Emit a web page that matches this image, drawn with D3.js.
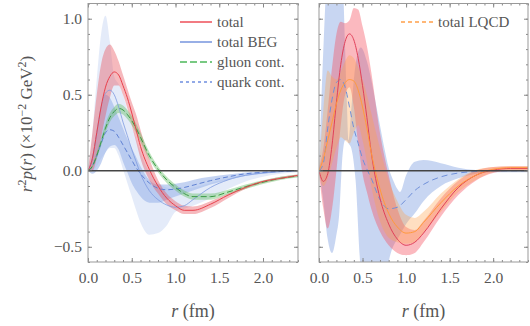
<!DOCTYPE html>
<html>
<head>
<meta charset="utf-8">
<script src="https://cdn.jsdelivr.net/npm/d3@7"></script>
<style>
  body { margin: 0; background: #fff; }
  text { font-family: "Liberation Serif", "Times New Roman", serif; fill: #555; }
</style>
</head>
<body>
<script>
// r grid (fm) shared by most curves
const rGrid = [0,0.05,0.1,0.15,0.2,0.25,0.3,0.35,0.4,0.45,0.5,0.55,0.6,0.7,0.8,0.9,1.0,1.1,1.2,1.4,1.6,1.8,2.0,2.2,2.4];

// left panel
const totalL   = [0,0.08,0.25,0.42,0.55,0.62,0.65,0.63,0.56,0.48,0.38,0.27,0.16,0.01,-0.10,-0.18,-0.23,-0.26,-0.26,-0.22,-0.16,-0.11,-0.07,-0.05,-0.03];
const totalLHi = [0,0.25,0.5,0.7,0.8,0.83,0.79,0.72,0.63,0.54,0.45,0.37,0.27,0.08,-0.06,-0.15,-0.20,-0.23,-0.235,-0.20,-0.15,-0.10,-0.065,-0.04,-0.025];
const totalLLo = [0,0,0.08,0.22,0.36,0.48,0.56,0.56,0.5,0.41,0.3,0.19,0.08,-0.06,-0.15,-0.22,-0.26,-0.285,-0.285,-0.245,-0.18,-0.12,-0.08,-0.055,-0.04];
const begL     = [0,0.08,0.25,0.42,0.51,0.53,0.50,0.42,0.32,0.23,0.14,0.06,-0.02,-0.13,-0.19,-0.225,-0.24,-0.23,-0.19,-0.11,-0.06,-0.03,-0.015,-0.005,0];
const begLHi   = [0,0.25,0.6,0.9,1.02,0.85,0.62,0.57,0.5,0.4,0.3,0.21,0.12,-0.01,-0.08,-0.11,-0.12,-0.12,-0.11,-0.08,-0.05,-0.025,-0.01,0,0];
const begLLo   = [0,0,0.03,0.08,0.12,0.15,0.15,0.1,0.01,-0.08,-0.17,-0.26,-0.34,-0.42,-0.41,-0.36,-0.27,-0.25,-0.23,-0.18,-0.12,-0.07,-0.04,-0.02,-0.01];
const gluonL   = [0,0.03,0.1,0.19,0.28,0.35,0.39,0.41,0.40,0.37,0.33,0.28,0.22,0.10,0.01,-0.06,-0.11,-0.15,-0.17,-0.17,-0.14,-0.105,-0.075,-0.05,-0.035];
const gluonLHi = [0,0.04,0.12,0.215,0.31,0.38,0.42,0.44,0.43,0.40,0.36,0.31,0.25,0.125,0.03,-0.04,-0.09,-0.13,-0.15,-0.15,-0.125,-0.09,-0.063,-0.04,-0.025];
const gluonLLo = [0,0.02,0.08,0.165,0.25,0.32,0.36,0.38,0.37,0.34,0.30,0.25,0.19,0.075,-0.01,-0.08,-0.13,-0.17,-0.19,-0.19,-0.155,-0.12,-0.087,-0.06,-0.045];
const quarkL   = [0,0.03,0.1,0.18,0.25,0.27,0.26,0.22,0.17,0.12,0.07,0.02,-0.02,-0.08,-0.115,-0.125,-0.12,-0.11,-0.095,-0.065,-0.04,-0.02,-0.01,-0.005,0];
const quarkLHi = [0,0.1,0.25,0.4,0.5,0.48,0.42,0.35,0.28,0.21,0.15,0.09,0.03,-0.06,-0.09,-0.09,-0.085,-0.075,-0.06,-0.04,-0.025,-0.012,-0.005,0,0];
const quarkLLo = [0,-0.02,0,0.05,0.12,0.16,0.17,0.14,0.06,-0.01,-0.08,-0.13,-0.17,-0.21,-0.21,-0.19,-0.17,-0.15,-0.13,-0.09,-0.06,-0.035,-0.02,-0.01,-0.005];

// right panel
const totalR   = [0,-0.07,-0.02,0.17,0.45,0.70,0.85,0.90,0.86,0.74,0.56,0.35,0.12,-0.18,-0.35,-0.45,-0.49,-0.47,-0.41,-0.25,-0.11,-0.03,0.005,0.015,0.015];
const totalRHi = [0.02,0.15,0.4,0.68,0.9,0.98,0.97,0.99,1.07,1.06,0.95,0.82,0.65,0.25,-0.03,-0.25,-0.37,-0.39,-0.33,-0.18,-0.065,0,0.025,0.03,0.03];
const totalRLo = [-0.02,-0.25,-0.38,-0.25,0.0,0.3,0.5,0.55,0.42,0.18,-0.02,-0.14,-0.25,-0.40,-0.49,-0.54,-0.555,-0.54,-0.47,-0.30,-0.16,-0.065,-0.015,0,0];
const lqcdR    = [0,0.08,0.2,0.32,0.44,0.53,0.58,0.60,0.59,0.53,0.42,0.28,0.12,-0.12,-0.28,-0.37,-0.41,-0.40,-0.34,-0.21,-0.10,-0.03,0.01,0.02,0.02];
const lqcdRHi  = [0.02,0.4,0.66,0.62,0.6,0.65,0.72,0.76,0.74,0.68,0.6,0.5,0.38,0.15,-0.06,-0.2,-0.29,-0.31,-0.27,-0.15,-0.055,0.005,0.025,0.03,0.03];
const lqcdRLo  = [-0.02,-0.1,-0.05,0.05,0.15,0.22,0.2,0.18,0.25,0.3,0.2,0.06,-0.1,-0.33,-0.44,-0.47,-0.48,-0.47,-0.41,-0.27,-0.14,-0.06,-0.01,0.005,0.005];
const begR     = [0,0.05,0.28,0.47,0.58,0.60,0.55,0.42,0.28,0.18,0.08,0.01,-0.05,-0.19,-0.25,-0.24,-0.19,-0.13,-0.09,-0.04,-0.015,-0.005,0,0,0];

// BEG band of right panel needs a finer grid
const rBand    = [0,0.05,0.1,0.15,0.2,0.23,0.27,0.3,0.32,0.34,0.37,0.42,0.48,0.55,0.6,0.65,0.7,0.75,0.8,0.85,0.9,0.93,1.0,1.1,1.2,1.4,1.6,1.8,2.0,2.2,2.4];
const begRHi   = [0,0.8,1.3,1.3,1.3,1.3,1.25,0.8,0.45,0.2,0.4,0.7,0.81,0.72,0.6,0.45,0.3,0.15,0.02,-0.06,-0.12,-0.14,-0.03,0.06,0.07,0.05,0.02,0.005,0,0,0];
const begRLo   = [0,-0.2,-0.45,-0.54,-0.42,-0.3,0.1,0.2,0.2,0.18,0.15,-0.06,-0.65,-0.8,-0.8,-0.8,-0.8,-0.8,-0.6,-0.5,-0.45,-0.42,-0.35,-0.28,-0.2,-0.1,-0.05,-0.02,-0.01,-0.01,-0.01];

const xMajor = [0,0.5,1.0,1.5,2.0];
const yMajor = [-0.5,0,0.5,1.0];

const svg = d3.select("body").append("svg")
  .attr("width", 530).attr("height", 326);

const yTop = 3.5, yBottom = 262;
const y = d3.scaleLinear().domain([-0.6, 1.1]).range([yBottom, yTop]);
const xL = d3.scaleLinear().domain([0, 2.4]).range([88, 298]);
const xR = d3.scaleLinear().domain([0, 2.4]).range([319, 528]);

const xMinor = d3.range(0, 2.41, 0.1).map(v => +v.toFixed(1));
const yMinor = d3.range(-0.6, 1.11, 0.1).map(v => +v.toFixed(1));

function zip(rs, a, b) {
  return rs.map((r, i) => ({r: r, a: a[i], b: b ? b[i] : null}));
}

function panel(x, id, showY) {
  const g = svg.append("g");
  g.append("clipPath").attr("id", id).append("rect")
    .attr("x", x.range()[0]).attr("y", yTop)
    .attr("width", x.range()[1] - x.range()[0]).attr("height", yBottom - yTop);
  const plot = g.append("g").attr("clip-path", "url(#" + id + ")");

  const band = (data, fill, op) => plot.append("path")
    .datum(data)
    .attr("d", d3.area().curve(d3.curveMonotoneX)
      .x(d => x(d.r)).y0(d => y(d.a)).y1(d => y(d.b)))
    .attr("fill", fill).attr("fill-opacity", op).attr("stroke", "none");

  const line = (data, color, w, dash) => plot.append("path")
    .datum(data)
    .attr("d", d3.line().curve(d3.curveMonotoneX).x(d => x(d.r)).y(d => y(d.a)))
    .attr("fill", "none").attr("stroke", color).attr("stroke-width", w)
    .attr("stroke-dasharray", dash || null);

  // axes: ticks inward on all four sides
  const axes = g.append("g");
  const addAxis = (ax, tx, ty) => {
    const a = axes.append("g").attr("transform", "translate(" + tx + "," + ty + ")").call(ax);
    a.select(".domain").remove();
    a.selectAll("line").attr("stroke", "#888");
    a.selectAll("text").attr("font-size", 15.5).attr("fill", "#555")
      .attr("font-family", "Liberation Serif, serif");
    return a;
  };
  const fmt = d3.format(".1f");
  addAxis(d3.axisBottom(x).tickValues(xMajor).tickSize(-4).tickPadding(10).tickFormat(fmt), 0, yBottom);
  addAxis(d3.axisBottom(x).tickValues(xMinor).tickSize(-2).tickFormat(""), 0, yBottom);
  addAxis(d3.axisTop(x).tickValues(xMajor).tickSize(-4).tickFormat(""), 0, yTop);
  addAxis(d3.axisTop(x).tickValues(xMinor).tickSize(-2).tickFormat(""), 0, yTop);
  addAxis(d3.axisLeft(y).tickValues(yMajor).tickSize(-4).tickPadding(6).tickFormat(showY ? fmt : ""), x.range()[0], 0);
  addAxis(d3.axisLeft(y).tickValues(yMinor).tickSize(-2).tickFormat(""), x.range()[0], 0);
  addAxis(d3.axisRight(y).tickValues(yMajor).tickSize(-4).tickFormat(""), x.range()[1], 0);
  addAxis(d3.axisRight(y).tickValues(yMinor).tickSize(-2).tickFormat(""), x.range()[1], 0);

  g.append("rect")
    .attr("x", x.range()[0]).attr("y", yTop)
    .attr("width", x.range()[1] - x.range()[0]).attr("height", yBottom - yTop)
    .attr("fill", "none").attr("stroke", "#999").attr("stroke-width", 1);

  const xl = g.append("text")
    .attr("x", (x.range()[0] + x.range()[1]) / 2).attr("y", 317)
    .attr("text-anchor", "middle").attr("font-size", 18);
  xl.append("tspan").attr("font-style", "italic").text("r");
  xl.append("tspan").text(" (fm)");

  return {plot: plot, band: band, line: line};
}

// left panel
const L = panel(xL, "clipL", true);
L.band(zip(rGrid, begLLo, begLHi), "#c9d7f3", 0.5);
L.band(zip(rGrid, quarkLLo, quarkLHi), "#9db5ea", 0.6);
L.band(zip(rGrid, totalLLo, totalLHi), "#e8505a", 0.4);
L.band(zip(rGrid, gluonLLo, gluonLHi), "#5cbc5c", 0.4);
L.line(zip(rGrid, begL), "#7e9be0", 0.8);
L.line(zip(rGrid, quarkL), "#5f80d2", 1, "5,3");
L.line(zip(rGrid, gluonL), "#3a9a45", 1, "6,3");
L.line(zip(rGrid, totalL), "#e8404c", 1);
L.plot.append("line").attr("x1", xL(0)).attr("x2", xL(2.4))
  .attr("y1", y(0)).attr("y2", y(0)).attr("stroke", "#444").attr("stroke-width", 1.3);

// right panel
const R = panel(xR, "clipR", false);
R.band(zip(rBand, begRLo, begRHi), "#7b9de0", 0.42);
R.band(zip(rGrid, totalRLo, totalRHi), "#f5505e", 0.4);
R.band(zip(rGrid, lqcdRLo, lqcdRHi), "#ffa04a", 0.34);
R.line(zip(rGrid, begR), "#6f8fd8", 1, "6,4");
R.line(zip(rGrid, totalR), "#e0405a", 1);
R.line(zip(rGrid, lqcdR), "#ff9a3c", 1);
R.plot.append("line").attr("x1", xR(0)).attr("x2", xR(2.4))
  .attr("y1", y(0)).attr("y2", y(0)).attr("stroke", "#444").attr("stroke-width", 1.3);

// legends
const legendL = [
  {label: "total", color: "#ef5a62", dash: null, y: 22},
  {label: "total BEG", color: "#7e9be0", dash: null, y: 42},
  {label: "gluon cont.", color: "#4cb85a", dash: "7,3", y: 62},
  {label: "quark cont.", color: "#6f8fe0", dash: "3,3", y: 82}
];
const legendR = [
  {label: "total LQCD", color: "#ffa04a", dash: "4,3", y: 22}
];
function legend(items, x0) {
  const lg = svg.append("g").selectAll("g").data(items).enter().append("g");
  lg.append("line").attr("x1", x0).attr("x2", x0 + 32)
    .attr("y1", d => d.y).attr("y2", d => d.y)
    .attr("stroke", d => d.color).attr("stroke-width", 1.6)
    .attr("stroke-dasharray", d => d.dash);
  lg.append("text").attr("x", x0 + 37).attr("y", d => d.y + 5)
    .attr("font-size", 15).text(d => d.label);
}
legend(legendL, 180);
legend(legendR, 401);

// y label
const yl = svg.append("text")
  .attr("transform", "translate(32,124) rotate(-90)")
  .attr("text-anchor", "middle").attr("font-size", 17);
yl.append("tspan").attr("font-style", "italic").text("r");
yl.append("tspan").attr("dy", -6).attr("font-size", 12).text("2");
yl.append("tspan").attr("dy", 6).attr("font-style", "italic").text("p");
yl.append("tspan").text("(");
yl.append("tspan").attr("font-style", "italic").text("r");
yl.append("tspan").text(")  (×10");
yl.append("tspan").attr("dy", -6).attr("font-size", 12).text("−2");
yl.append("tspan").attr("dy", 6).text(" GeV");
yl.append("tspan").attr("dy", -6).attr("font-size", 12).text("2");
yl.append("tspan").attr("dy", 6).text(")");
</script>
</body>
</html>
